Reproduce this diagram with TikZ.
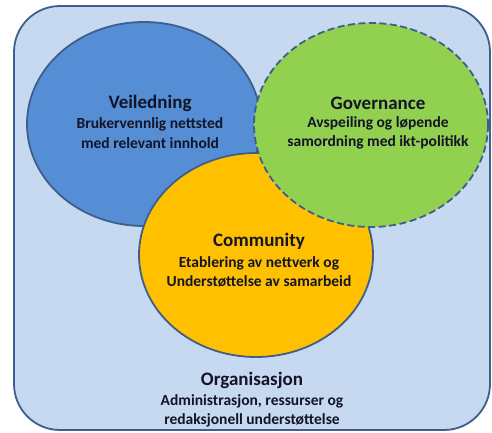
\documentclass[tikz,border=0pt]{standalone}
\usepackage{fontspec}
\setmainfont{Carlito}
\usepackage{xcolor}
\usepackage{tikz}
\usetikzlibrary{positioning}

\definecolor{rammeblaa}{HTML}{C6D9F1}
\definecolor{kantblaa}{HTML}{3E5F8C}
\definecolor{veiblaa}{HTML}{558ED5}
\definecolor{govgronn}{HTML}{92D050}
\definecolor{komgul}{HTML}{FFC000}
\definecolor{tekst}{HTML}{141428}

\tikzset{
  sirkel/.style={draw=kantblaa, line width=1.8pt},
  tittel/.style={font=\fontsize{19}{22}\selectfont\bfseries, text=tekst, inner sep=0pt},
  undertekst/.style={font=\fontsize{15.5}{19.5}\selectfont\bfseries, text=tekst, align=center, inner sep=0pt}
}

\begin{document}
\begin{tikzpicture}[x=1pt,y=-1pt]
                \useasboundingbox (0,0) rectangle (492,432);
                \coordinate (V) at (144,124);
                \coordinate (G) at (371,125);
                \coordinate (K) at (256,255);

                % ramme rundt alt
                \draw[fill=rammeblaa, draw=kantblaa, line width=1.8pt, rounded corners=46pt] (14,6) rectangle (490,430);

                \draw[sirkel, fill=veiblaa] (V) ellipse [x radius=117, y radius=102];
                \draw[sirkel, fill=komgul] (K) ellipse [x radius=117, y radius=102];
                \draw[sirkel, fill=govgronn, dashed, dash pattern=on 7pt off 3.5pt] (G) ellipse [x radius=117, y radius=102];

                \node[tittel] (veiledning) at (150,103) {Veiledning};
                \node[undertekst] (veitekst) at (150,133) {Brukervennlig nettsted\\med relevant innhold};

                \node[tittel] (governance) at (378,103) {Governance};
                \node[undertekst] (govtekst) at (378,133) {Avspeiling og løpende\\samordning med ikt-politikk};

                \node[tittel] (community) at (259,241) {Community};
                \node[undertekst] (komtekst) at (259,272) {Etablering av nettverk og\\Understøttelse av samarbeid};

                \node[tittel] (organisasjon) at (252,380) {Organisasjon};
                \node[undertekst] (orgtekst) at (252,411) {Administrasjon, ressurser og\\redaksjonell understøttelse};
             \end{tikzpicture}
\end{document}
